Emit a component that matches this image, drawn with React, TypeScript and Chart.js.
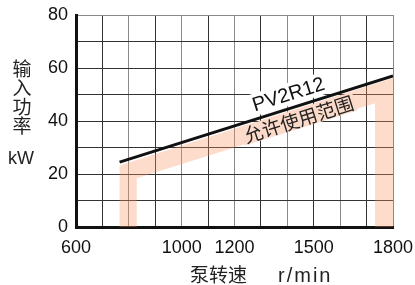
import React, { useEffect, useRef } from "react";
import { Chart, registerables } from "chart.js";

Chart.register(...registerables);

// ---- data ----
const xLabelTicks = [600, 1000, 1200, 1500, 1800];
const yLabelTicks = [0, 20, 40, 60, 80];

// PV2R12 max input power line (rpm, kW)
const lineX = [765, 1800];
const lineY = [24.5, 57];

// permitted range band (closed polygon, rpm / kW)
const bandX = [765, 765, 1800, 1800, 1732, 1732, 830, 830, 765];
const bandY = [0, 23.2, 56.2, 0, 0, 46.7, 18.4, 0, 0];

const yTitleChars = ["输", "入", "功", "率"];
const yUnit = "kW";
const xTitle = "泵转速";
const xUnit = "r/min";
const lineLabel = "PV2R12";
const bandLabel = "允许使用范围";

const LATIN = '"Liberation Sans", Arial, sans-serif';
const CJK = '"Noto Sans CJK SC", sans-serif';

const labelsPlugin = {
  id: "labels",
  afterDatasetsDraw(chart: any) {
    const { ctx } = chart;
    const xs = chart.scales.x;
    const ys = chart.scales.y;
    const x1 = xs.getPixelForValue(lineX[0]);
    const y1 = ys.getPixelForValue(lineY[0]);
    const x2 = xs.getPixelForValue(lineX[1]);
    const y2 = ys.getPixelForValue(lineY[1]);
    const ang = Math.atan2(y2 - y1, x2 - x1);
    const lineAt = (v: number) =>
      lineY[0] + ((v - lineX[0]) * (lineY[1] - lineY[0])) / (lineX[1] - lineX[0]);

    // PV2R12 label above line
    ctx.save();
    const ax = 1420;
    ctx.translate(xs.getPixelForValue(ax), ys.getPixelForValue(lineAt(ax)));
    ctx.rotate(ang);
    ctx.font = `20px ${LATIN}`;
    const w1 = ctx.measureText(lineLabel).width;
    ctx.fillStyle = "#ffffff";
    ctx.fillRect(-w1 / 2 - 4, -25, w1 + 8, 22);
    ctx.fillStyle = "#111";
    ctx.textAlign = "center";
    ctx.textBaseline = "middle";
    ctx.fillText(lineLabel, 0, -13);
    ctx.restore();

    // band label below line
    ctx.save();
    const bx = 1428;
    ctx.translate(xs.getPixelForValue(bx), ys.getPixelForValue(lineAt(bx)));
    ctx.rotate(ang);
    ctx.font = `19px ${CJK}`;
    const w2 = ctx.measureText(bandLabel).width;
    ctx.fillStyle = "rgb(252,218,201)";
    ctx.fillRect(-w2 / 2 - 2, 3, w2 + 4, 19);
    ctx.fillStyle = "#222";
    ctx.textAlign = "center";
    ctx.textBaseline = "middle";
    ctx.fillText(bandLabel, 0, 13);
    ctx.restore();
  },
  afterDraw(chart: any) {
    const { ctx } = chart;
    ctx.save();
    ctx.fillStyle = "#222";
    ctx.textAlign = "center";
    ctx.textBaseline = "middle";
    ctx.font = `19px ${CJK}`;
    yTitleChars.forEach((c, i) => ctx.fillText(c, 22, 69 + i * 19));
    ctx.font = `18px ${LATIN}`;
    ctx.fillText(yUnit, 21, 159);
    ctx.textAlign = "left";
    ctx.font = `19px ${CJK}`;
    ctx.fillText(xTitle, 190, 275);
    ctx.font = `20px ${LATIN}`;
    (ctx as any).letterSpacing = "2px";
    ctx.fillText(xUnit, 278, 276);
    ctx.restore();
  },
};

export default function App() {
  const ref = useRef<HTMLCanvasElement>(null);
  useEffect(() => {
    if (!ref.current) return;
    const chart = new Chart(ref.current, {
      type: "scatter",
      data: {
        datasets: [
          {
            data: bandX.map((x, i) => ({ x, y: bandY[i] })),
            showLine: true,
            fill: "shape",
            backgroundColor: "rgba(248,150,100,0.33)",
            borderWidth: 0,
            borderColor: "rgba(0,0,0,0)",
            pointRadius: 0,
            order: 2,
          } as any,
          {
            data: lineX.map((x, i) => ({ x, y: lineY[i] })),
            showLine: true,
            fill: false,
            borderColor: "#111",
            borderWidth: 3,
            pointRadius: 0,
            order: 1,
          },
        ],
      },
      options: {
        responsive: false,
        animation: false,
        events: [],
        layout: { padding: { left: 0, right: 22, top: 15, bottom: 0 } },
        plugins: { legend: { display: false }, tooltip: { enabled: false } },
        scales: {
          x: {
            type: "linear",
            min: 600,
            max: 1800,
            afterFit: (s: any) => {
              s.height = 58;
              s.paddingLeft = 0;
              s.paddingRight = 0;
            },
            ticks: {
              stepSize: 100,
              autoSkip: false,
              maxRotation: 0,
              padding: 10,
              color: "#111",
              font: { family: LATIN, size: 18 },
              callback: (v: any) => (xLabelTicks.includes(Number(v)) ? String(v) : ""),
            },
            grid: {
              drawTicks: false,
              lineWidth: 1,
              color: (c: any) => (c.tick && Math.round(c.tick.value) % 200 === 100 ? "#333" : "#8a8a8a"),
            },
            border: { display: true, color: "#111", width: 3 },
          },
          y: {
            type: "linear",
            min: 0,
            max: 80,
            afterFit: (s: any) => {
              s.width = 76;
              s.paddingTop = 0;
              s.paddingBottom = 0;
            },
            ticks: {
              stepSize: 10,
              autoSkip: false,
              padding: 8,
              color: "#111",
              font: { family: LATIN, size: 18 },
              callback: (v: any) => (yLabelTicks.includes(Number(v)) ? String(v) : ""),
            },
            grid: {
              drawTicks: false,
              lineWidth: 1,
              color: (c: any) => (c.tick && c.tick.value === 80 ? "#8a8a8a" : "#333"),
            },
            border: { display: true, color: "#111", width: 3 },
          },
        },
      },
      plugins: [labelsPlugin],
    });
    return () => chart.destroy();
  }, []);
  return (
    <div style={{ position: "fixed", left: 0, top: 0, width: 415, height: 285, background: "#fff" }}>
      <canvas ref={ref} width={415} height={285} style={{ display: "block" }} />
    </div>
  );
}
